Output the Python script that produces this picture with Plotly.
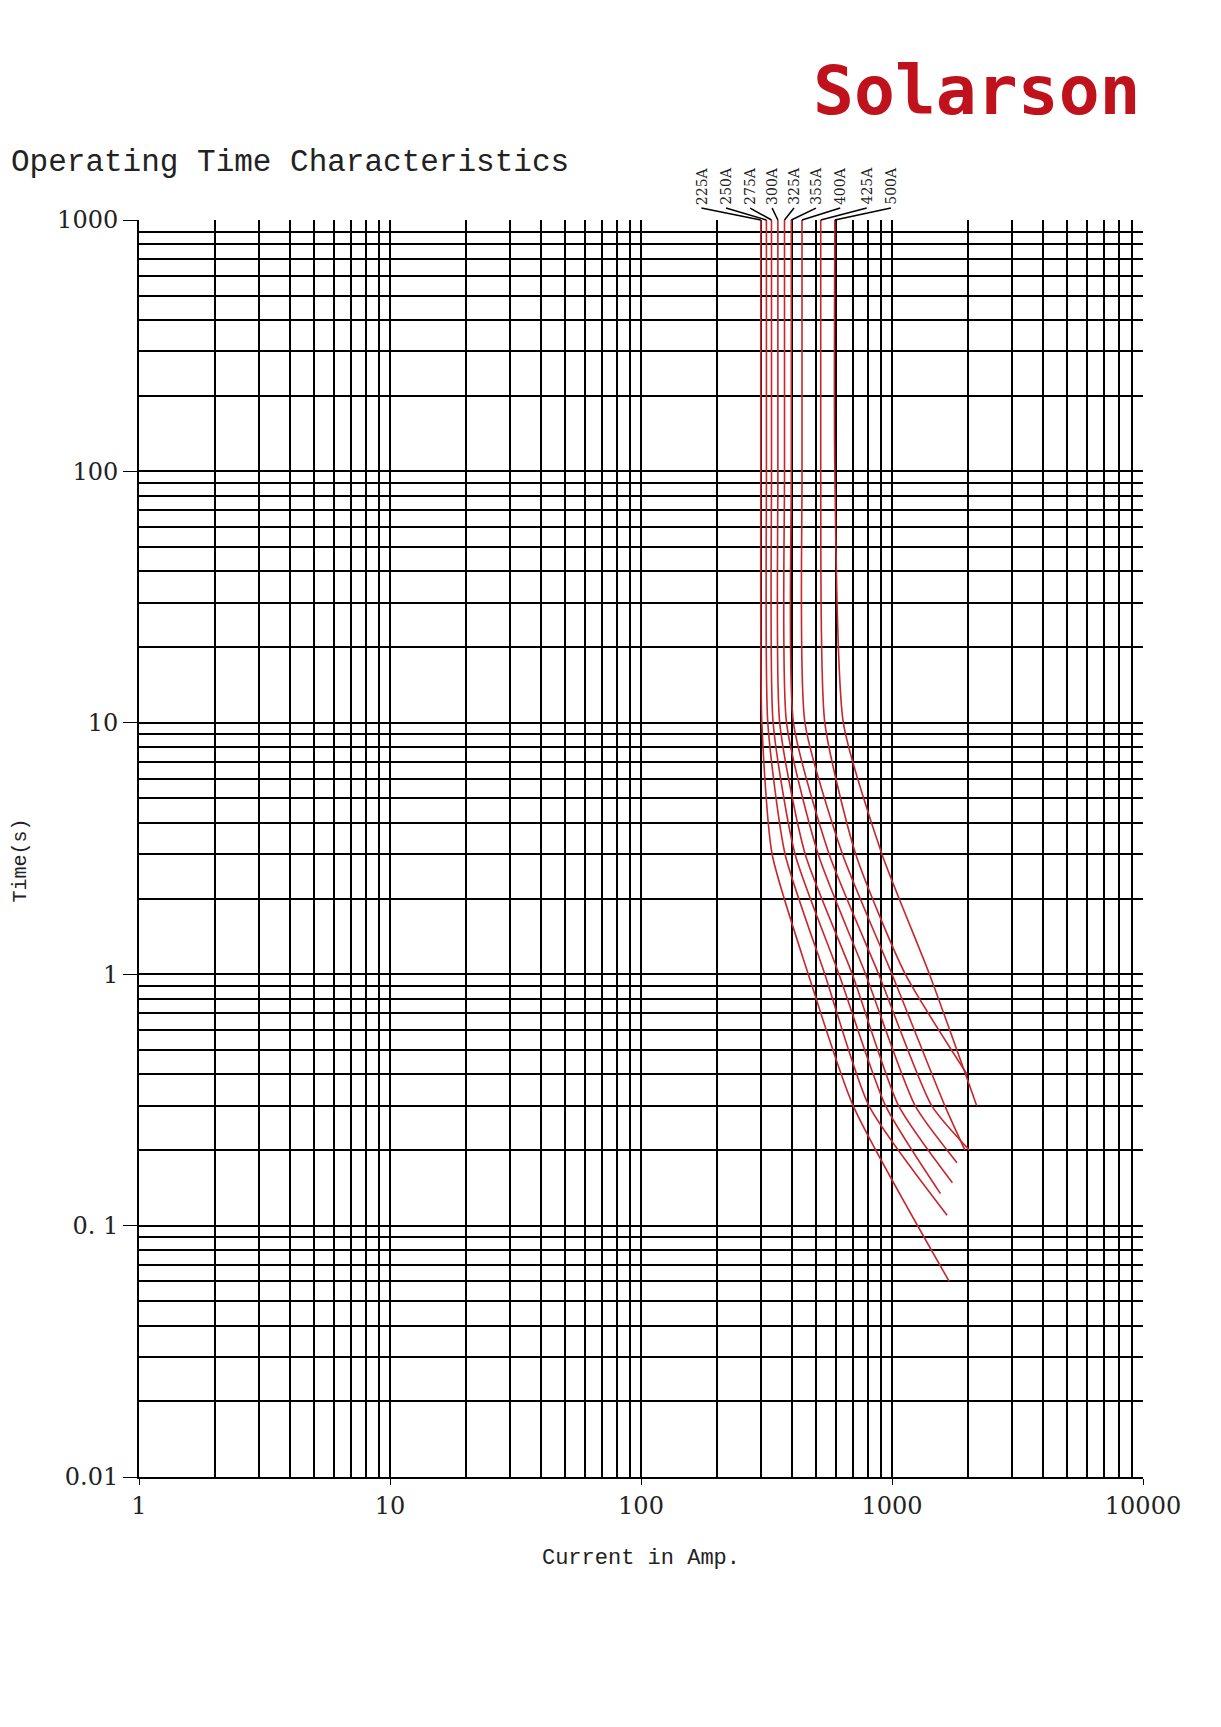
import math
import plotly.graph_objects as go

ratings = ["225A", "250A", "275A", "300A", "325A", "355A", "400A", "425A", "500A"]
times = [1000, 100, 10, 3, 1, 0.3]
currents = [
    [300, 300, 303, 333, 464, 700],
    [316, 316, 320, 375, 540, 809],
    [331, 331, 336, 411, 615, 942],
    [351, 351, 357, 451, 695, 1062],
    [373, 373, 380, 508, 785, 1236],
    [397, 397, 405, 562, 885, 1439],
    [438, 438, 450, 635, 1000, 1623],
    [520, 520, 540, 717, 1130, None],
    [592, 592, 640, 912, 1410, 2175],
]
end_i = [1690, 1657, 1560, 1740, 1815, 2030, 1950, 1990, None]
end_t = [0.06, 0.11, 0.134, 0.148, 0.178, 0.20, 0.20, 0.40, None]
label_x = [174, 218, 272, 333, 407, 498, 622, 793, 990]

fig = go.Figure()
for k, name in enumerate(ratings):
    xs, ys = [], []
    for c, t in zip(currents[k], times):
        if c is not None:
            xs.append(c); ys.append(t)
    if end_i[k] is not None:
        xs.append(end_i[k]); ys.append(end_t[k])
    fig.add_trace(go.Scatter(x=xs, y=ys, mode="lines", line=dict(color="#c8262b", width=1.6, shape="spline", smoothing=0.6), name=name, showlegend=False))
    fig.add_annotation(x=math.log10(label_x[k]), xref="x", xanchor="center", y=1.0105, yref="paper", yanchor="bottom",
                       text=name, textangle=-90, showarrow=False, font=dict(family="DejaVu Serif", size=14, color="#222"))
    fig.add_shape(type="line", xref="x", yref="paper", x0=label_x[k], y0=1.0095, x1=currents[k][0], y1=1.0,
                  line=dict(color="black", width=1.5))

fig.update_xaxes(type="log", range=[0, 4], tickvals=[1, 10, 100, 1000, 10000], ticktext=["1", "10", "100", "1000", "10000"],
                 ticks="outside", ticklen=6, tickcolor="black", gridcolor="black", gridwidth=2, showline=True, linecolor="black", linewidth=2,
                 minor=dict(dtick="D1", showgrid=True, gridcolor="black", gridwidth=2),
                 tickfont=dict(family="DejaVu Serif", size=24, color="#222"), automargin=False,
                 title=dict(text="Current in Amp.", font=dict(family="Liberation Mono", size=22, color="#222"), standoff=30))
fig.update_yaxes(type="log", range=[-2, 3], tickvals=[0.01, 0.1, 1, 10, 100, 1000], ticktext=["0.01", "0. 1", "1", "10", "100", "1000"],
                 ticks="outside", ticklen=14, tickcolor="black", gridcolor="black", gridwidth=2, showline=True, linecolor="black", linewidth=2,
                 minor=dict(dtick="D1", showgrid=True, gridcolor="black", gridwidth=2),
                 tickfont=dict(family="DejaVu Serif", size=24, color="#222"), automargin=False)
fig.update_layout(width=1221, height=1727, margin=dict(l=131, r=86, t=212, b=258),
                  plot_bgcolor="white", paper_bgcolor="white")
fig.add_annotation(text="Time(s)", textangle=-90, xref="paper", yref="paper", x=-0.118, y=0.49,
                   xanchor="center", yanchor="middle", showarrow=False, font=dict(family="Liberation Mono", size=20, color="#222"))
fig.add_annotation(text="Operating Time Characteristics", xref="paper", yref="paper", x=-0.129, y=1.046,
                   xanchor="left", yanchor="middle", showarrow=False, font=dict(family="Liberation Mono", size=31, color="#222"))
fig.add_annotation(text="<b>Solarson</b>", xref="paper", yref="paper", x=1.0, y=1.103,
                   xanchor="right", yanchor="middle", showarrow=False, font=dict(family="DejaVu Sans Mono", size=68, color="#c0121c"))
fig.write_html("out.html")
